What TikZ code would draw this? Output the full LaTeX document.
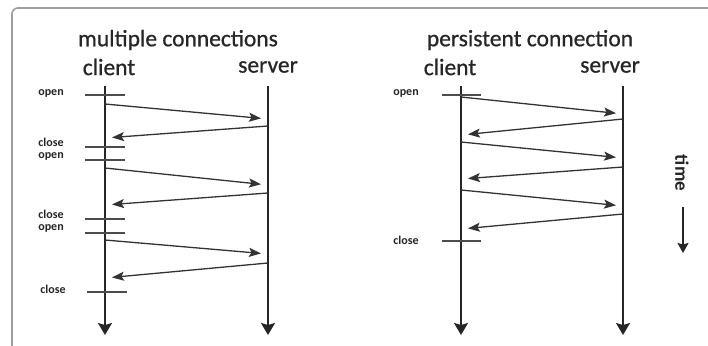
\documentclass[tikz,border=0pt]{standalone}
\usepackage{fontspec}
\setmainfont{Carlito}
\newfontfamily\headfont[FakeBold=0.7]{Carlito}
\usetikzlibrary{arrows.meta}
\begin{document}
\begin{tikzpicture}[x=1pt,y=-1pt,
  frame/.style={draw=black!38,line width=1.6pt,rounded corners=6pt},
  title/.style={font=\headfont\fontsize{23.5}{24}\selectfont,text=black!85,inner sep=0pt},
  role/.style={font=\headfont\fontsize{23.5}{24}\selectfont,text=black!85,inner sep=0pt},
  tag/.style={font=\bfseries\fontsize{12}{13}\selectfont,text=black!85,inner sep=0pt},
  lifeline/.style={draw=black!85,line width=1.8pt,-{Stealth[length=12pt,width=14pt,inset=2pt]}},
  msg/.style={draw=black!80,line width=1.3pt,-{Stealth[length=12pt,width=9pt,inset=2.5pt]},shorten >=7pt},
  bar/.style={draw=black!70,line width=2pt}]
\useasboundingbox (0,0) rectangle (708,345);
\fill[white] (0,0) rectangle (708,345);
\draw[frame] (12,350) -- (12,8) -- (715,8);

% ---------- left: multiple connections
\node[title] (t1) at (178,40) {multiple connections};
\node[role] (c1) at (109,67) {client};
\node[role] (s1) at (268,67) {server};
\coordinate (c1top) at (105,86); \coordinate (c1bot) at (105,335);
\coordinate (s1top) at (268,86); \coordinate (s1bot) at (268,335);
\draw[lifeline] (c1top) -- (c1bot);
\draw[lifeline] (s1top) -- (s1bot);

\node[tag] (o1) at (51,93) {open};
\node[tag] (x1) at (51,142) {close};
\node[tag] (o2) at (51,156) {open};
\node[tag] (x2) at (51,214) {close};
\node[tag] (o3) at (51,228) {open};
\node[tag] (x3) at (53,289) {close};
\coordinate (bo1a) at (85,95);  \coordinate (bo1b) at (125,95);
\coordinate (bx1a) at (85,147); \coordinate (bx1b) at (125,147);
\coordinate (bo2a) at (85,160); \coordinate (bo2b) at (125,160);
\coordinate (bx2a) at (85,219); \coordinate (bx2b) at (125,219);
\coordinate (bo3a) at (85,233); \coordinate (bo3b) at (125,233);
\coordinate (bx3a) at (87,292); \coordinate (bx3b) at (127,292);
\foreach \a/\b in {bo1a/bo1b,bx1a/bx1b,bo2a/bo2b,bx2a/bx2b,bo3a/bo3b,bx3a/bx3b}
  \draw[bar] (\a) -- (\b);

\coordinate (m1a) at (105,104); \coordinate (m1b) at (268,119);
\coordinate (m2a) at (268,126); \coordinate (m2b) at (105,138);
\coordinate (m3a) at (105,168); \coordinate (m3b) at (268,185);
\coordinate (m4a) at (268,193); \coordinate (m4b) at (105,205);
\coordinate (m5a) at (105,240); \coordinate (m5b) at (268,254);
\coordinate (m6a) at (268,263); \coordinate (m6b) at (105,278);
\foreach \a/\b in {m1a/m1b,m2a/m2b,m3a/m3b,m4a/m4b,m5a/m5b,m6a/m6b}
  \draw[msg] (\a) -- (\b);

% ---------- right: persistent connection
\node[title] (t2) at (530,40) {persistent connection};
\node[role] (c2) at (450,67) {client};
\node[role] (s2) at (610,67) {server};
\coordinate (c2top) at (461,86); \coordinate (c2bot) at (461,335);
\coordinate (s2top) at (623,86); \coordinate (s2bot) at (623,335);
\draw[lifeline] (c2top) -- (c2bot);
\draw[lifeline] (s2top) -- (s2bot);

\node[tag] (o4) at (406,93) {open};
\node[tag] (x4) at (406,240) {close};
\coordinate (bo4a) at (442,95);  \coordinate (bo4b) at (481,95);
\coordinate (bx4a) at (442,241); \coordinate (bx4b) at (481,241);
\draw[bar] (bo4a) -- (bo4b);
\draw[bar] (bx4a) -- (bx4b);

\coordinate (n1a) at (461,97);  \coordinate (n1b) at (623,114);
\coordinate (n2a) at (623,119); \coordinate (n2b) at (461,135);
\coordinate (n3a) at (461,142); \coordinate (n3b) at (623,158);
\coordinate (n4a) at (623,167); \coordinate (n4b) at (461,179);
\coordinate (n5a) at (461,190); \coordinate (n5b) at (623,206);
\coordinate (n6a) at (623,214); \coordinate (n6b) at (461,229);
\foreach \a/\b in {n1a/n1b,n2a/n2b,n3a/n3b,n4a/n4b,n5a/n5b,n6a/n6b}
  \draw[msg] (\a) -- (\b);

% ---------- time
\node[tag,rotate=-90,font=\bfseries\fontsize{19}{20}\selectfont] (time) at (682,173) {time};
\coordinate (ta) at (683,207); \coordinate (tb) at (683,253);
\draw[draw=black!85,line width=1.5pt,-{Stealth[length=10pt,width=11pt,inset=1.5pt]}] (ta) -- (tb);
\end{tikzpicture}
\end{document}
